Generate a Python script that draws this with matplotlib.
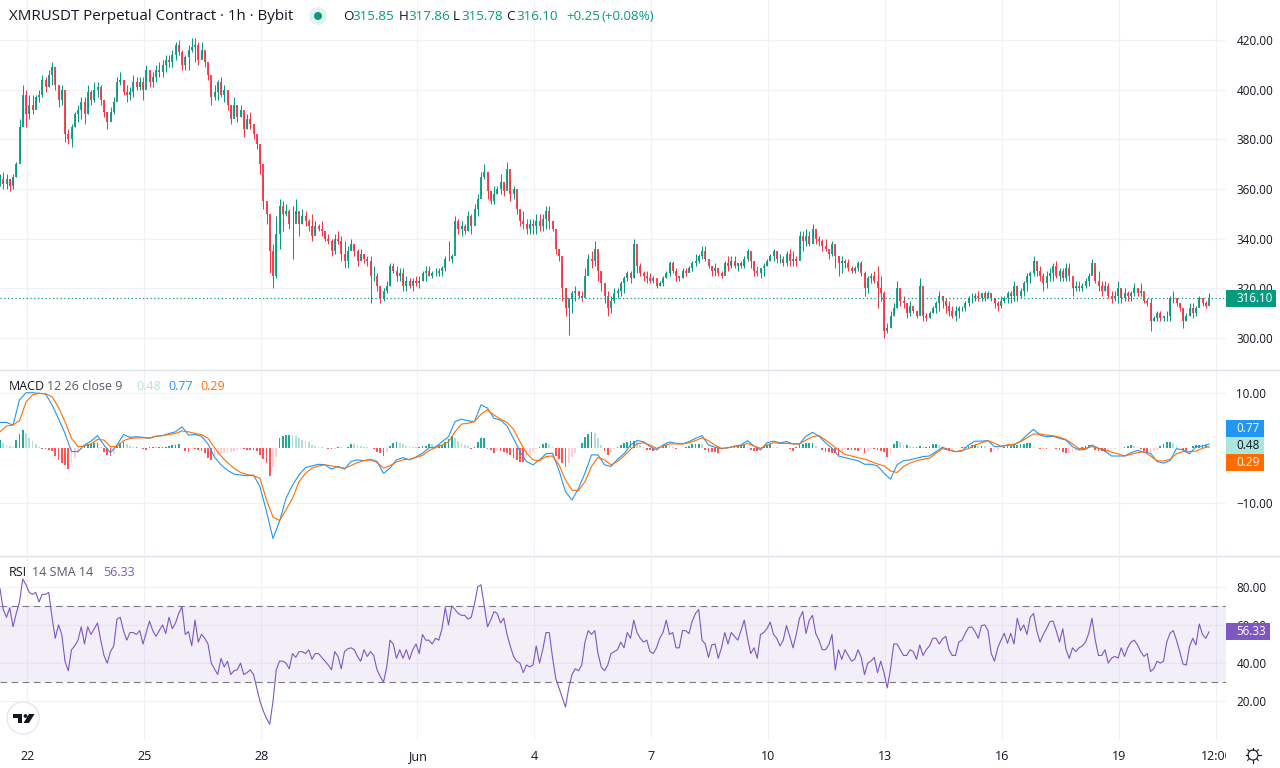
import numpy as np
import matplotlib
matplotlib.use('Agg')
import matplotlib.pyplot as plt
from matplotlib.patches import Circle, Polygon, Rectangle

plt.rcParams['font.family'] = ['Open Sans', 'DejaVu Sans']

# hourly chart thinned to one candle every 2 hours
highs = [
    366,367,366,364,366,371,388,402,400,398,
    398,398,400,406,405,408,411,408,402,402,
    394,384,386,391,394,397,397,402,400,403,
    403,402,396,391,393,397,405,407,404,402,
    401,406,405,405,405,410,406,407,410,411,
    412,414,414,416,419,420,416,414,418,421,
    421,419,419,415,410,404,402,404,405,402,
    400,394,397,394,394,390,390,391,384,380,
    376,366,354,343,338,349,356,355,354,352,
    353,356,349,352,351,348,350,347,346,347,
    343,342,340,342,343,341,339,337,340,338,
    336,336,334,333,333,329,326,321,320,323,
    330,330,329,328,328,325,324,324,325,325,
    327,329,329,327,328,328,329,333,339,334,
    349,348,347,346,351,350,354,358,367,370,
    366,359,361,361,366,363,371,364,361,356,
    351,351,348,348,348,350,350,350,353,353,
    347,340,336,330,320,315,319,321,319,319,
    328,334,335,339,334,327,322,319,317,320,
    320,323,325,327,327,340,332,330,327,327,
    326,325,323,323,325,327,331,331,328,325,
    328,328,329,331,334,334,337,337,330,329,
    330,328,327,331,333,333,333,330,331,333,
    336,334,331,329,328,330,332,334,336,335,
    334,333,335,336,335,333,343,343,344,343,
    346,343,341,340,340,335,339,337,333,333,
    332,332,329,329,331,331,327,325,326,327,
    329,325,319,306,311,314,323,319,317,314,
    315,312,311,324,316,310,311,313,315,319,
    317,316,315,313,313,313,313,315,317,318,
    318,319,318,319,319,318,316,315,317,317,
    319,319,323,321,320,323,326,327,333,329,
    329,326,327,328,330,331,328,328,330,330,
    323,323,323,322,324,326,332,328,327,323,
    323,322,319,319,323,320,320,319,319,322,
    320,322,317,316,316,309,311,311,309,311,
    317,319,316,314,312,310,314,314,313,317,
    315,315,318,
]
lows = [
    361,360,360,359,360,365,372,386,385,388,
    390,393,395,397,399,401,402,400,393,394,
    379,378,377,385,387,388,386,390,394,395,
    397,394,389,384,388,390,397,402,398,395,
    396,397,400,400,396,404,401,401,403,405,
    405,407,409,409,412,414,408,408,408,415,
    411,410,413,409,404,394,396,396,397,395,
    392,386,390,387,389,381,384,384,380,376,
    366,352,346,326,320,324,336,343,349,344,
    332,348,341,346,345,343,339,342,343,341,
    339,338,333,334,338,331,328,328,336,333,
    329,331,330,329,314,323,319,314,315,318,
    321,326,323,323,319,319,320,319,321,320,
    323,323,325,324,325,325,325,327,331,330,
    341,342,341,342,343,342,348,349,358,364,
    356,354,354,358,358,357,361,355,356,350,
    345,344,342,342,342,342,343,343,344,344,
    343,334,331,315,309,301,310,315,316,315,
    318,326,328,329,323,319,314,309,310,314,
    316,317,318,323,322,324,326,325,323,322,
    322,322,320,321,321,324,325,326,323,323,
    324,325,327,327,329,330,332,331,328,325,
    325,325,324,327,327,328,328,327,328,328,
    331,328,325,325,324,325,329,331,331,330,
    330,329,329,329,329,329,334,335,337,337,
    340,338,337,335,335,332,333,328,325,326,
    328,327,326,326,327,325,317,318,322,322,
    312,315,300,302,304,309,312,313,312,308,
    309,310,308,310,307,307,308,310,310,311,
    312,310,309,308,307,308,311,311,313,314,
    315,315,315,315,316,315,312,311,312,314,
    314,314,315,315,316,317,319,322,325,325,
    323,319,320,323,323,324,323,323,323,323,
    317,319,319,319,320,321,326,322,319,317,
    319,316,314,315,314,314,315,315,315,317,
    317,317,314,313,303,307,307,307,307,307,
    307,314,313,311,304,307,309,308,309,313,
    313,312,316,
]
closes = [
    364,362,364,361,365,370,385,398,390,394,
    392,397,398,404,401,406,409,402,396,400,
    382,380,385,390,392,395,390,399,396,400,
    401,396,391,387,391,395,403,404,399,398,
    399,403,401,403,400,408,403,405,408,407,
    410,412,411,414,418,415,410,413,416,417,
    418,412,416,411,406,397,399,403,398,400,
    394,388,394,389,392,384,388,386,382,378,
    370,355,350,335,325,342,353,350,351,346,
    346,351,346,349,347,345,341,345,344,343,
    340,339,335,340,339,334,331,335,338,335,
    331,334,332,331,325,325,321,316,319,321,
    329,327,325,326,321,323,321,323,322,323,
    326,327,325,326,326,327,328,332,332,333,
    347,344,345,343,349,345,352,356,365,367,
    359,355,358,360,363,359,368,358,360,352,
    347,346,344,346,345,347,345,348,351,347,
    344,336,333,320,312,316,318,319,317,316,
    325,332,331,336,327,322,317,312,315,318,
    319,322,324,326,324,338,329,326,325,324,
    323,324,321,322,324,326,330,327,325,324,
    327,326,328,330,331,333,335,332,329,327,
    328,326,325,330,329,331,329,330,329,332,
    335,331,327,326,328,329,331,333,335,332,
    332,330,334,331,332,331,341,339,341,338,
    344,340,339,337,336,334,338,333,330,331,
    330,328,327,328,330,326,320,324,325,323,
    320,318,303,304,309,312,320,315,314,310,
    313,311,309,321,309,308,310,312,314,317,
    315,313,311,309,311,312,312,314,316,316,
    317,316,318,316,318,316,314,313,315,316,
    318,317,321,317,319,322,325,326,331,327,
    325,322,325,326,329,325,327,324,328,325,
    320,321,320,321,323,325,330,323,321,319,
    321,317,316,317,320,316,318,317,318,320,
    318,319,315,314,307,308,310,308,309,309,
    316,316,314,312,307,309,312,310,312,316,
    314,313,316.1,
]

# macd and signal are read every 4 hours
macd_line = [
    4.7,4.7,4.2,8.8,10.1,10.1,10,9.9,7.9,5.4,
    2.7,-0.6,-0.6,0.6,1.3,2.3,0.6,-0.8,0.6,2.5,
    2.0,2.1,2.0,1.8,2.2,2.3,2.7,3.0,3.9,2.4,
    2.5,2.2,0.8,-1.6,-3,-4,-4.7,-4.85,-5,-4.85,
    -7,-11.5,-16.4,-13.3,-9.1,-6.7,-4.85,-3.5,-3.2,-2.9,
    -3,-3.8,-3.3,-3.8,-2.4,-2.1,-2.25,-2,-2.4,-4.55,
    -3.6,-2.1,-1.7,-2.1,-1.6,-0.9,0.1,0.2,1.2,2.1,
    4.85,5.3,5.0,4.85,7.9,7.3,5.45,5.15,4.05,1.8,
    -0.6,-2.4,-3,-2.1,-1,-0.9,-4,-7.9,-9.4,-7.3,
    -4.5,-1.2,-1.2,-3,-3.3,-2,-1,0.6,1.4,1.2,
    0.3,-0.3,0.6,1.15,0.9,0.8,1.2,1.8,2.3,0.6,
    0.2,-0.06,0.1,0.4,0.6,1.4,0.4,-0.3,1.0,1.3,
    1.0,1.2,0.8,0.8,2.2,2.9,2.2,1.0,0,-1.4,
    -1.7,-2.0,-2.25,-2.9,-2.9,-3.2,-4.55,-5.6,-3.0,-2.25,
    -2.1,-1.8,-1.5,-1.4,-0.6,0.2,-0.3,-0.6,-0.5,0.6,
    1.3,1.3,1.4,0.3,0.3,0.55,0.6,1.3,2.4,3.45,
    2.4,2.1,2.2,1.8,1.5,0.3,-0.3,-0.2,0.6,0,
    -0.5,-1.4,-1.4,-1.4,-0.8,-0.4,-0.7,-0.9,-2.4,-2.7,
    -2.25,-0.06,-0.3,-1.0,0.3,0.4,0.77,
]
signal_line = [
    3.0,4.06,4.24,5.0,8.4,9.7,10,9.9,9.4,7.45,
    4.85,1.8,0.3,0.4,0.8,1.6,1.5,0.3,0.3,1.4,
    1.8,1.9,1.9,1.9,2.2,2.3,2.5,2.7,3.15,3.0,
    2.7,2.5,1.8,0.1,-1.4,-2.6,-3.6,-4.4,-4.75,-5,
    -5.45,-9.4,-12.5,-13.15,-11.2,-9.1,-6.1,-4.55,-3.6,-3.2,
    -3,-3.2,-3.45,-3.6,-3.15,-2.6,-2.25,-2.1,-2.55,-3.6,
    -3.15,-2.5,-2.1,-2,-1.65,-1.3,-0.4,0.1,0.6,1.2,
    3.0,4.4,4.55,4.85,6.2,7,6.05,5.3,4.7,3.45,
    1.2,-0.9,-2.1,-2.25,-1.5,-1.4,-3,-5.75,-7.6,-7.7,
    -6.05,-3.3,-1.65,-2.1,-3,-2.4,-1.4,-0.2,0.8,1.0,
    0.6,0,0.4,0.8,0.8,0.8,1.0,1.4,1.9,1.4,
    0.55,0,0.1,0.3,0.5,0.9,0.4,0,0.6,1.0,
    0.9,0.9,0.8,0.8,1.5,2.1,2.3,1.5,0.6,-0.3,
    -1.1,-1.4,-1.7,-1.95,-2.4,-2.85,-3.2,-4.1,-4.4,-3.3,
    -2.7,-2.25,-2,-1.8,-0.9,-0.06,-0.3,-0.6,-0.4,-0.06,
    0.6,1.0,1.4,0.9,0.4,0.6,0.75,1.2,1.9,2.6,
    2.6,2.4,2.3,2.0,1.6,0.8,-0.06,0,0.3,0,
    -0.3,-0.7,-1,-1.4,-1.1,-0.8,-0.6,-1.4,-2.25,-2.3,
    -2,-1,-0.6,-0.6,-0.5,0,0.29,
]
macd_hist = [
    1.5,1.0,0.6,0.5,0.2,1.5,2.6,3.3,2.7,1.9,
    1.3,0.8,0.3,-0.1,-0.2,-0.3,-0.5,-1.4,-2.1,-2.6,
    -3,-3.7,-2.7,-1.8,-0.9,-0.3,0.4,0.7,0.8,0.9,
    1,0.2,-0.6,-1.2,-1.4,-1.0,0.4,0.9,1.2,0.7,
    0.4,0.2,0.3,0.1,-0.1,-0.3,0.3,0.3,0.2,0.2,
    0.2,0.3,0.4,0.6,0.6,0.7,0,-0.4,-0.6,-0.2,
    -0.2,-0.3,-0.4,-0.8,-1.7,-2.1,-1.4,-1.2,-1.1,-0.9,
    -0.8,-0.6,-0.4,-0.3,-0.2,-0.2,-0.3,-0.3,-0.3,-0.4,
    -1.3,-2.0,-2.7,-5.0,-3.4,-1.5,1.8,2.3,2.4,2.5,
    2.4,2.3,1.8,1.6,1.3,1.1,0.6,0.5,0.3,0.2,
    0.1,-0.1,-0.2,-0.1,0.3,0.2,0,0.2,0.8,0.7,
    0.6,0.4,0.3,0.2,0.1,-0.2,-0.6,-0.9,-1.4,-0.6,
    0.4,1.0,1.1,0.9,0.7,0.5,0.4,0.3,0.2,0.2,
    0.4,0.4,0.8,0.7,0.6,0.6,0.6,1.2,1.7,2.2,
    1.9,1.4,0.9,0.6,0.4,-0.1,0.2,1.2,1.8,1.8,
    -0.1,-0.3,-0.8,-0.5,-0.5,-0.6,-0.9,-1.2,-1.8,-2.1,
    -2.4,-2.4,-1.6,-1.2,-0.4,-0.1,0.2,0.8,1,0.8,
    0.3,-1.4,-2.0,-2.7,-3.4,-2.6,-1.6,-0.9,0.1,0.9,
    2.0,2.6,2.9,2.8,1.8,0.6,-0.4,-1.2,-0.6,-0.2,
    0.2,0.6,0.9,1.1,1.4,1.4,1.2,0.6,0.2,-0.3,
    -0.3,-0.5,-0.3,0.1,0.5,0.6,0.4,0.3,-0.1,0,
    0.1,0.3,0.4,0.7,0.7,0.8,0.7,-0.3,-0.6,-0.7,
    -0.7,-0.8,-0.4,0.1,0.2,0.1,0.2,0.4,0.6,0.6,
    0.3,-0.3,-0.5,-0.5,-0.3,0.4,0.6,0.7,0.3,0.2,
    0.1,0.1,0,-0.2,-0.5,0.3,0.8,0.8,0.9,0.9,
    0.9,0.4,0,-0.3,-0.6,-0.7,-0.8,-0.9,-1.3,-0.6,
    -0.3,-0.3,-0.3,-0.3,-0.4,-0.3,-0.8,-0.5,-0.2,-0.2,
    -0.3,-0.5,-0.7,-1.5,-1.0,0.8,1.3,1.1,0.6,0.6,
    0.5,0.3,0.3,0.4,0.2,0.3,0.5,0.7,0.7,0.6,
    -0.1,-0.3,-0.4,-0.3,-0.1,0,0.2,0.3,0.5,0.6,
    0.6,0.5,0.5,0.4,0,-0.6,-0.5,-0.3,0.1,0.3,
    0.4,0.5,0.6,0.6,0.7,0.8,0.9,0.9,0.4,0.1,
    -0.2,-0.1,-0.1,0.1,0.1,-0.2,-0.3,-0.7,-0.9,-0.8,
    -0.6,-0.5,-0.3,0.2,0.4,0.6,0.1,-0.3,-0.4,-0.5,
    -0.6,-0.5,-0.3,-0.2,0,0.1,0.3,0.5,0.6,0.4,
    0.3,-0.1,-0.5,-0.8,-0.7,-0.5,-0.3,0.4,0.8,1.1,
    1.1,0.9,0.5,0.1,-0.3,-0.4,0.1,0.5,0.6,0.6,
    0.6,0.6,0.48,
]
rsi = [
    79,68,64,69,59,66,72,84,81,77,
    76,77,72,76,76,77,64,53,60,55,
    41,36,47,49,52,59,50,59,55,58,
    61,52,44,40,46,49,63,64,57,52,
    56,56,55,57,50,56,62,57,54,57,
    60,55.5,64,58,61,66,69.5,55,56.5,49,
    62.5,51,55,53,50,40,37,34,42.5,38,
    41,34,36,36.5,40,34,35,36.5,34,27,
    20,15,11,8,20,36.5,41,41,40,37,
    45,43,46,46,45,47,42,45,45,43,
    41,39,36.5,46,43.5,37,46,47.5,48,47,
    43.5,41,47,43.5,46,44,36.5,33,30,38,
    52,50,42.5,47,42.5,47,42,47,50,45,
    55,52,52,50,53,52,58,69,60,70,
    68,66,65,65,63,64,71,80,81,70,
    59,62.5,67,66,61,63.5,55,49,43.5,41,
    40,35,39,38,39,49,40,47,56,56,
    43,32,27,22,17,27,34,37,36,39,
    51,57,55,57,45,38,36,39,45,46,
    47,51,48,56,53,62.5,56,53,51,52,
    46,45,48,53,56,62.5,55,56,48,48,
    57,57,55.5,62,66,68,52,50,43,49.5,
    50,42.5,48,56,50,56,54,52,57,62.5,
    53,45,48,42.5,55,56,58,61.5,55,53,
    49,52,59.6,54,48,55,63.5,67,55.5,62.5,
    65,55.5,52,47,47,49.5,55,36.5,47,42,
    47,44,41,42,47,43,34,40,41,43,
    35,41,35,27,37,50,50,47,44,44,
    47,46,42,49.5,44,47,49,53,53,50,
    52.7,54,47,44,44,51,52,55.6,58.6,59,
    56.5,53,59.6,60,57,45,41,48,52,55.6,
    50.4,55.6,50,63.5,57,60,55,64,66,57,
    51,55,58,61.7,62,57,51,58,47,42.5,
    48,46,48,49,51,55.6,63.5,52,44,44,
    47,40,42.6,43.5,42.6,48,43.5,48,51,52,
    49.5,46,43.5,45,35.6,37,41,40,41,51,
    55.6,57,52,46,39.5,39,48.7,53,49.5,60.5,
    55,53,56.33,
]

price_ticks = [300, 320, 340, 360, 380, 400, 420]
macd_ticks = [-10, 10]
rsi_ticks = [20, 40, 60, 80]
time_ticks = [16.9, 88.9, 160.9, 256.9, 328.9, 400.9, 472.9, 544.9, 616.9, 688.9, 748.6]
time_labels = ['22', '25', '28', 'Jun', '4', '7', '10', '13', '16', '19', '12:00']

UP = '#089981'
DOWN = '#f23645'
GRID = '#f0f1f4'
TEXT = '#131722'
W, H = 1280, 768
PX_PER_HOUR = 1.625
RIGHT = 1226


def pane(top, bottom):
    ax = fig.add_axes([0, 1 - bottom / H, RIGHT / W, (bottom - top) / H])
    ax.set_xlim(0, RIGHT / PX_PER_HOUR)
    ax.yaxis.tick_right()
    for s in ax.spines.values():
        s.set_visible(False)
    ax.tick_params(axis='y', length=0, pad=7.5, labelsize=8.4, labelcolor=TEXT)
    ax.set_xticks(time_ticks)
    ax.tick_params(axis='x', length=0, labelbottom=False)
    ax.grid(True, color=GRID, lw=0.8)
    ax.set_axisbelow(True)
    return ax


fig = plt.figure(figsize=(W / 100, H / 100), dpi=100, facecolor='white')

# main pane
ax = pane(0, 369)
ax.set_ylim(420 - (369 - 40) / 2.483, 420 + 40 / 2.483)
ax.set_yticks(price_ticks, ['%.2f' % v for v in price_ticks])
t = np.arange(len(closes)) * 2
c = np.array(closes, dtype=float)
o = np.r_[c[0], c[:-1]]
col = np.where(c >= o, UP, DOWN)
ax.vlines(t, lows, highs, colors=col, lw=0.72)
ax.vlines(t, np.minimum(o, c), np.maximum(o, c), colors=col, lw=1.3)
ax.axhline(closes[-1], color=UP, lw=0.9, ls=(0, (1, 2)))

# macd pane
ax2 = pane(370, 555)
ax2.set_ylim(-10 - (555 - 503.3) / 5.5, 10 + (393.3 - 370) / 5.5)
ax2.set_yticks(macd_ticks, ['\u221210.00', '10.00'])
h = np.array(macd_hist)
prev = np.r_[h[0], h[:-1]]
hcol = []
for a, b in zip(h, prev):
    if a >= 0:
        hcol.append('#26a69a' if a >= b else '#b2dfdb')
    else:
        hcol.append('#ff5252' if a <= b else '#ffcdd2')
ax2.bar(np.arange(len(h)) * 2, h, width=1.1, color=hcol)
t4 = np.arange(len(macd_line)) * 4
ax2.plot(t4, macd_line, color='#2196f3', lw=0.8)
ax2.plot(t4, signal_line, color='#ff6d00', lw=0.8)

# rsi pane
ax3 = pane(556, 740)
ax3.set_ylim(20 - (740 - 701.3) / 1.91, 80 + (586.7 - 556) / 1.91)
ax3.set_yticks(rsi_ticks, ['%.2f' % v for v in rsi_ticks])
ax3.axhspan(30, 70, color='#7e57c2', alpha=0.09, lw=0)
ax3.axhline(70, color='#787b86', lw=0.8, ls=(0, (6, 4)))
ax3.axhline(30, color='#787b86', lw=0.8, ls=(0, (6, 4)))
ax3.plot(np.arange(len(rsi)) * 2, rsi, color='#7e57c2', lw=0.8)
ax3.set_xticks(time_ticks, time_labels)
ax3.tick_params(axis='x', labelbottom=True, pad=7, labelsize=9, labelcolor=TEXT)

# overlay in pixel coordinates for the header, price tags and icons
ov = fig.add_axes([0, 0, 1, 1], facecolor='none')
ov.set_xlim(0, W)
ov.set_ylim(H, 0)
ov.axis('off')


def label(x, y, s, color=TEXT, size=9.6, **kw):
    ov.text(x, y, s, color=color, fontsize=size, va='center', **kw)


def tag(x0, x1, y0, y1, s, bg, fg='white'):
    ov.add_patch(Rectangle((x0, y0), x1 - x0, y1 - y0, color=bg, lw=0))
    label(1236, (y0 + y1) / 2, s, color=fg, size=8.4)


ov.plot([0, W], [369.5, 369.5], color='#e0e3eb', lw=1)
ov.plot([0, W], [555.5, 555.5], color='#e0e3eb', lw=1)

label(9, 16, 'XMRUSDT Perpetual Contract \u00b7 1h \u00b7 Bybit', size=10.9)
ov.add_patch(Circle((318, 16), 9, color='#e3f2f0', lw=0))
ov.add_patch(Circle((318, 16), 4, color=UP, lw=0))
for x, s in [(343, 'O'), (399, 'H'), (453, 'L'), (506, 'C')]:
    label(x, 16, s)
for x, s in [(352, '315.85'), (408, '317.86'), (461, '315.78'), (516, '316.10'),
             (566, '+0.25'), (601, '(+0.08%)')]:
    label(x, 16, s, color=UP)

label(9, 387, 'MACD', size=9)
label(47, 387, '12 26 close 9', color='#555a66', size=9)
label(136, 387, '0.48', color='#ace5dc', size=9)
label(168, 387, '0.77', color='#2196f3', size=9)
label(200, 387, '0.29', color='#ff6d00', size=9)

label(9, 573, 'RSI', size=9)
label(32, 573, '14 SMA 14', color='#555a66', size=9)
label(103, 573, '56.33', color='#7e57c2', size=9)

tag(1226, 1276, 290, 307, '316.10', UP)
tag(1226, 1264, 420, 437, '0.77', '#2196f3')
tag(1226, 1264, 437, 454, '0.48', '#ace5dc', fg=TEXT)
tag(1226, 1264, 454, 471, '0.29', '#ff6d00')
tag(1226, 1270, 623, 640, '56.33', '#7e57c2')

# the last time label is cut at the price scale
ov.add_patch(Rectangle((1226, 742), 54, 26, color='white', lw=0))

# tradingview badge
ov.add_patch(Circle((23, 718), 16, facecolor='white', edgecolor='#e0e3eb', lw=0.8))
ov.add_patch(Rectangle((13, 714), 9, 4, color=TEXT, lw=0))
ov.add_patch(Rectangle((17.5, 714), 4.5, 9, color=TEXT, lw=0))
ov.add_patch(Circle((25.5, 716), 1.9, color=TEXT, lw=0))
ov.add_patch(Polygon([(29, 714), (34.5, 714), (29, 723), (23.5, 723)], color=TEXT, lw=0))

# settings gear
ov.add_patch(Circle((1253, 755), 5, facecolor='none', edgecolor=TEXT, lw=0.8))
for a in np.deg2rad(np.arange(0, 360, 45)):
    ov.plot([1253 + 5 * np.cos(a), 1253 + 7.5 * np.cos(a)],
            [755 + 5 * np.sin(a), 755 + 7.5 * np.sin(a)], color=TEXT, lw=0.8)

fig.savefig('out.png', dpi=100)
